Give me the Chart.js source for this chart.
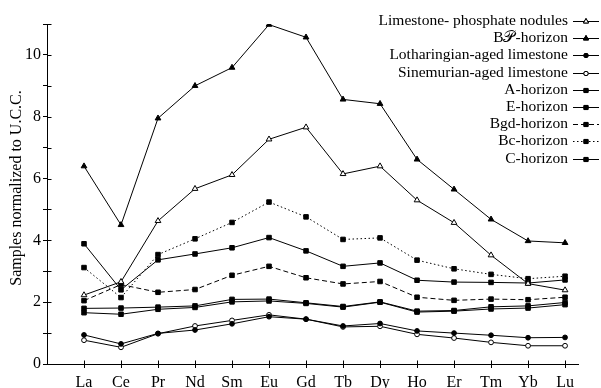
<!DOCTYPE html>
<html>
<head>
<meta charset="utf-8">
<script src="https://cdn.jsdelivr.net/npm/chart.js@4.4.1/dist/chart.umd.min.js"></script>
<style>
html,body{margin:0;padding:0;background:#fff;}
canvas{display:block;}
</style>
</head>
<body>
<canvas id="c" width="601" height="388"></canvas>
<script>
const categories = ['La','Ce','Pr','Nd','Sm','Eu','Gd','Tb','Dy','Ho','Er','Tm','Yb','Lu'];
const yTickLabels = [0, 2, 4, 6, 8, 10];
const seriesNames = ['Limestone- phosphate nodules','B\u{1D4AB}-horizon','Lotharingian-aged limestone','Sinemurian-aged limestone','A-horizon','E-horizon','Bgd-horizon','Bc-horizon','C-horizon'];

const limestonePhosphate = [2.23,2.66,4.63,5.67,6.12,7.27,7.66,6.15,6.40,5.30,4.57,3.52,2.60,2.39];
const bpHorizon          = [6.40,4.50,7.95,9.00,9.59,10.98,10.57,8.56,8.42,6.62,5.65,4.68,3.98,3.92];
const lotharingian       = [0.94,0.65,0.99,1.10,1.30,1.53,1.45,1.23,1.31,1.07,1.00,0.93,0.85,0.86];
const sinemurian         = [0.77,0.54,0.98,1.23,1.41,1.59,1.45,1.20,1.22,0.96,0.84,0.70,0.59,0.59];
const aHorizon           = [3.89,2.40,3.37,3.56,3.76,4.09,3.66,3.16,3.27,2.71,2.65,2.64,2.62,2.72];
const eHorizon           = [1.80,1.81,1.84,1.88,2.09,2.10,1.98,1.86,2.01,1.71,1.73,1.85,1.88,1.99];
const bgdHorizon         = [2.05,2.57,2.32,2.41,2.87,3.16,2.79,2.59,2.67,2.16,2.06,2.10,2.08,2.16];
const bcHorizon          = [3.12,2.15,3.54,4.05,4.58,5.24,4.76,4.03,4.08,3.36,3.08,2.90,2.76,2.84];
const cHorizon           = [1.66,1.61,1.77,1.83,2.01,2.04,1.96,1.84,2.00,1.68,1.71,1.78,1.81,1.92];

const seriesValues = [limestonePhosphate,bpHorizon,lotharingian,sinemurian,aHorizon,eHorizon,bgdHorizon,bcHorizon,cHorizon];
const styles = [
  {ps:'triangle', fill:'#fff', r:3.3, dash:[]},
  {ps:'triangle', fill:'#000', r:3.3, dash:[]},
  {ps:'circle',   fill:'#000', r:2.4, dash:[]},
  {ps:'circle',   fill:'#fff', r:2.4, dash:[]},
  {ps:'rect',     fill:'#000', r:3.2, dash:[]},
  {ps:'rect',     fill:'#000', r:3.2, dash:[]},
  {ps:'rect',     fill:'#000', r:3.2, dash:[5,3]},
  {ps:'rect',     fill:'#000', r:3.2, dash:[1.5,2.5]},
  {ps:'rect',     fill:'#000', r:3.2, dash:[]}
];

const SERIF = '"Liberation Serif", "DejaVu Serif", serif';

const datasets = seriesNames.map((name, k) => ({
  label: name,
  data: seriesValues[k].map((v, i) => ({x: i, y: v})),
  borderColor: '#000',
  borderWidth: 1,
  borderDash: styles[k].dash,
  pointStyle: styles[k].ps,
  pointRadius: styles[k].r,
  pointBackgroundColor: styles[k].fill,
  pointBorderColor: '#000',
  pointBorderWidth: 1,
  fill: false,
  tension: 0
}));

const extras = {
  id: 'extras',
  afterDraw(chart) {
    const ctx = chart.ctx;
    const xs = chart.scales.x, ys = chart.scales.y;
    ctx.save();
    ctx.strokeStyle = '#000';
    ctx.lineWidth = 1;
    ctx.setLineDash([]);
    const ax = Math.round(xs.left) + 0.5;
    ys.ticks.forEach(t => {
      const py = Math.round(ys.getPixelForValue(t.value)) + 0.5;
      ctx.beginPath(); ctx.moveTo(ax, py); ctx.lineTo(ax + 4, py); ctx.stroke();
    });
    const ay = Math.round(ys.bottom) + 0.5;
    xs.ticks.forEach(t => {
      const px = Math.round(xs.getPixelForValue(t.value)) + 0.5;
      ctx.beginPath(); ctx.moveTo(px, ay); ctx.lineTo(px, ay - 4); ctx.stroke();
    });
    ctx.fillStyle = '#000';
    ctx.font = '16px ' + SERIF;
    ctx.textAlign = 'center';
    ctx.textBaseline = 'middle';
    ctx.translate(17, 188);
    ctx.rotate(-Math.PI / 2);
    ctx.fillText('Samples normalized to U.C.C.', 0, 0);
    ctx.restore();

    ctx.save();
    ctx.font = '15.5px ' + SERIF;
    ctx.textAlign = 'right';
    ctx.textBaseline = 'middle';
    ctx.fillStyle = '#000';
    seriesNames.forEach((name, k) => {
      const y = 21 + k * 17.2;
      ctx.fillText(name, 568, y);
      ctx.strokeStyle = '#000';
      ctx.lineWidth = 1;
      ctx.setLineDash(styles[k].dash);
      ctx.beginPath(); ctx.moveTo(573, Math.round(y) + 0.5); ctx.lineTo(599, Math.round(y) + 0.5); ctx.stroke();
      ctx.setLineDash([]);
      ctx.fillStyle = styles[k].fill;
      Chart.helpers.drawPoint(ctx, {pointStyle: styles[k].ps, radius: styles[k].r * 0.9, rotation: 0, borderWidth: 1}, 586, Math.round(y) + 0.5);
      ctx.fill();
      ctx.stroke();
      ctx.fillStyle = '#000';
    });
    ctx.restore();
  }
};

new Chart(document.getElementById('c'), {
  type: 'line',
  data: { datasets },
  options: {
    responsive: false,
    animation: false,
    devicePixelRatio: 1,
    layout: { padding: { top: 24, right: 23, left: 0, bottom: 0 } },
    plugins: { legend: { display: false }, tooltip: { enabled: false } },
    scales: {
      x: {
        type: 'linear',
        min: -1,
        max: 13.35,
        afterBuildTicks: (s) => { s.ticks = categories.map((_, i) => ({value: i})); },
        afterFit: (s) => { s.height = 24; },
        ticks: {
          autoSkip: false,
          maxRotation: 0,
          padding: 5,
          color: '#000',
          font: { family: SERIF, size: 16 },
          callback: (v) => categories[v] !== undefined ? categories[v] : ''
        },
        grid: { drawOnChartArea: false, drawTicks: true, tickLength: 4, color: '#000', lineWidth: 1 },
        border: { display: true, color: '#000', width: 1 }
      },
      y: {
        type: 'linear',
        min: 0,
        max: 11,
        afterFit: (s) => { s.width = 47; },
        ticks: {
          stepSize: 1,
          padding: 2,
          color: '#000',
          font: { family: SERIF, size: 16 },
          callback: (v) => yTickLabels.includes(v) ? String(v) : ''
        },
        grid: { drawOnChartArea: false, drawTicks: true, tickLength: 4, color: '#000', lineWidth: 1 },
        border: { display: true, color: '#000', width: 1 }
      }
    }
  },
  plugins: [extras]
});
</script>
</body>
</html>
